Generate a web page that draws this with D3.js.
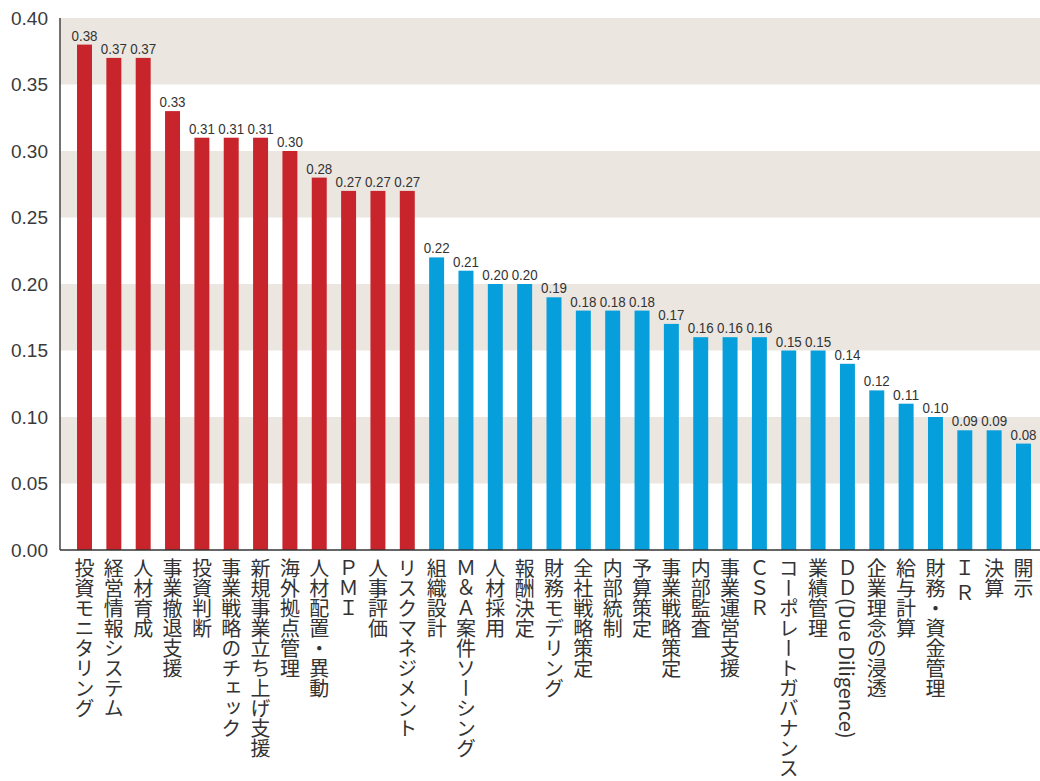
<!DOCTYPE html>
<html><head><meta charset="utf-8">
<script src="https://cdn.jsdelivr.net/npm/d3@7"></script>
<style>
html,body{margin:0;padding:0;background:#fff;}
svg{display:block;}
</style></head>
<body>
<svg id="chart" width="1040" height="781"></svg>
<script>
const categories = ["投資モニタリング","経営情報システム","人材育成","事業撤退支援","投資判断","事業戦略のチェック","新規事業立ち上げ支援","海外拠点管理","人材配置・異動","ＰＭＩ","人事評価","リスクマネジメント","組織設計","Ｍ＆Ａ案件ソーシング","人材採用","報酬決定","財務モデリング","全社戦略策定","内部統制","予算策定","事業戦略策定","内部監査","事業運営支援","ＣＳＲ","コーポレートガバナンス","業績管理","ＤＤ(Due Diligence)","企業理念の浸透","給与計算","財務・資金管理","Ｉ Ｒ","決算","開示"];
const values = [0.38,0.37,0.37,0.33,0.31,0.31,0.31,0.30,0.28,0.27,0.27,0.27,0.22,0.21,0.20,0.20,0.19,0.18,0.18,0.18,0.17,0.16,0.16,0.16,0.15,0.15,0.14,0.12,0.11,0.10,0.09,0.09,0.08];
const groups = ["top","top","top","top","top","top","top","top","top","top","top","top","rest","rest","rest","rest","rest","rest","rest","rest","rest","rest","rest","rest","rest","rest","rest","rest","rest","rest","rest","rest","rest"];
const yTicks = [0,0.05,0.10,0.15,0.20,0.25,0.30,0.35,0.40];
const bandRanges = [[0.05,0.10],[0.15,0.20],[0.25,0.30],[0.35,0.40]];
const colors = {top:"#c8242c", rest:"#069fdb"};

const svg = d3.select("#chart");
const mLeft = 60, mRight = 1040, mTop = 18, mBottom = 550;
const y = d3.scaleLinear().domain([0,0.40]).range([mBottom, mTop]);
const x = d3.scaleBand().domain(categories).range([mLeft, 1048]).paddingInner(0.49).paddingOuter(0.58);

svg.append("g").selectAll("rect").data(bandRanges).join("rect")
  .attr("x", mLeft).attr("width", mRight-mLeft)
  .attr("y", d=>y(d[1])).attr("height", d=>y(d[0])-y(d[1]))
  .attr("fill", "#ebe6e0");

svg.append("g").selectAll("rect").data(categories).join("rect")
  .attr("x", d=>x(d)).attr("width", x.bandwidth())
  .attr("y", (d,i)=>y(values[i])).attr("height", (d,i)=>mBottom-y(values[i]))
  .attr("fill", (d,i)=>colors[groups[i]]);

svg.append("g").selectAll("text").data(categories).join("text")
  .attr("x", d=>x(d)+x.bandwidth()/2 - 13).attr("y", (d,i)=>y(values[i])-4)
  .attr("font-family","'Liberation Sans',Arial,sans-serif")
  .attr("font-size",15.5).attr("fill","#333")
  .attr("textLength",26).attr("lengthAdjust","spacingAndGlyphs")
  .text((d,i)=>values[i].toFixed(2));

// y axis
const yAxis = d3.axisLeft(y).tickValues(yTicks).tickFormat(d3.format(".2f")).tickSize(0).tickPadding(12);
const ga = svg.append("g").attr("transform",`translate(${mLeft},0)`).call(yAxis);
ga.select(".domain").remove();
ga.selectAll("text").attr("font-family","'Liberation Sans',sans-serif").attr("font-size",19).attr("fill","#3a3a3a");

svg.append("line").attr("x1",mLeft).attr("x2",mLeft).attr("y1",mTop).attr("y2",mBottom).attr("stroke","#444").attr("stroke-width",1.5);
svg.append("line").attr("x1",mLeft).attr("x2",mRight).attr("y1",mBottom).attr("y2",mBottom).attr("stroke","#333").attr("stroke-width",1.5);

// x labels vertical
svg.append("g").selectAll("text").data(categories).join("text")
  .attr("x", d=>x(d)+x.bandwidth()/2).attr("y", 558)
  .attr("style","writing-mode: vertical-rl; text-orientation: mixed;")
  .attr("font-family","'Noto Sans CJK JP',sans-serif")
  .attr("font-size",20).attr("fill","#333")
  .text(d=>d);
</script>
</body></html>
